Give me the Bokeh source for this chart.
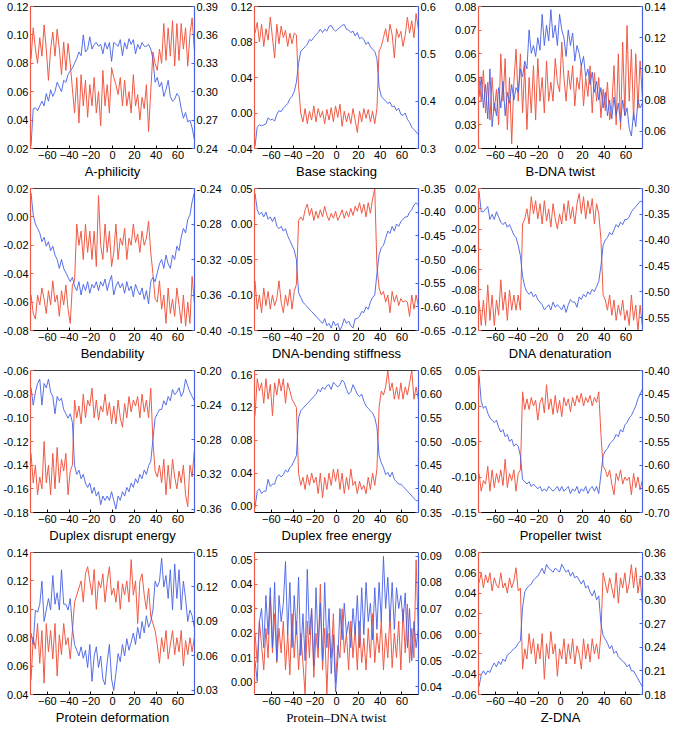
from bokeh.plotting import figure
from bokeh.models import Range1d, LinearAxis, FixedTicker, PrintfTickFormatter
from bokeh.layouts import gridplot
from bokeh.embed import file_html
from bokeh.resources import INLINE

RED = "#f05a45"
BLUE = "#4660e6"
FONT = "Liberation Sans"

positions = list(range(-75, 76, 2))
x_ticks = [-60, -40, -20, 0, 20, 40, 60]

titles = ["A-philicity", "Base stacking", "B-DNA twist",
          "Bendability", "DNA-bending stiffness", "DNA denaturation",
          "Duplex disrupt energy", "Duplex free energy", "Propeller twist",
          "Protein deformation", "Protein\u2013DNA twist", "Z-DNA"]

# ---- A-philicity
aph_red = [0.083, 0.105, 0.09, 0.08, 0.098, 0.085, 0.107, 0.09, 0.068, 0.09,
           0.102, 0.085, 0.104, 0.09, 0.072, 0.095, 0.075, 0.094, 0.08, 0.062,
           0.045, 0.07, 0.038, 0.072, 0.05, 0.068, 0.042, 0.065, 0.05, 0.07,
           0.045, 0.06, 0.036, 0.075, 0.05, 0.065, 0.045, 0.077, 0.07, 0.065,
           0.058, 0.07, 0.05, 0.068, 0.05, 0.06, 0.045, 0.072, 0.05, 0.058,
           0.04, 0.056, 0.048, 0.065, 0.032, 0.06, 0.088, 0.08, 0.075, 0.09,
           0.08, 0.108, 0.082, 0.105, 0.085, 0.11, 0.078, 0.108, 0.082, 0.108,
           0.09, 0.105, 0.078, 0.1, 0.112, 0.09]
aph_blue = [0.243, 0.282, 0.283, 0.28, 0.285, 0.29, 0.285, 0.298, 0.29, 0.302,
            0.295, 0.30, 0.31, 0.305, 0.30, 0.312, 0.31, 0.318, 0.322, 0.325,
            0.33, 0.335, 0.342, 0.338, 0.36, 0.342, 0.345, 0.358, 0.345, 0.35,
            0.352, 0.348, 0.35, 0.34, 0.352, 0.345, 0.352, 0.332, 0.352, 0.35,
            0.348, 0.355, 0.338, 0.352, 0.345, 0.356, 0.35, 0.355, 0.34, 0.35,
            0.345, 0.352, 0.348, 0.348, 0.35, 0.345, 0.335, 0.31, 0.315, 0.305,
            0.31, 0.295, 0.302, 0.312, 0.295, 0.29, 0.292, 0.298, 0.295, 0.282,
            0.272, 0.278, 0.268, 0.27, 0.262, 0.25]

# ---- Base stacking
bst_red = [0.09, 0.102, 0.08, 0.1, 0.075, 0.095, 0.082, 0.108, 0.085, 0.062,
           0.1, 0.078, 0.098, 0.085, 0.093, 0.075, 0.09, 0.078, 0.09, 0.088,
           0.03, 0.0, -0.01, 0.005, -0.012, 0.002, -0.008, 0.008, -0.01, 0.005,
           -0.005, 0.002, -0.012, 0.004, -0.008, 0.006, -0.01, 0.008, -0.005, 0.01,
           -0.015, 0.002, -0.01, 0.0, -0.012, 0.005, -0.008, -0.022, 0.002, -0.01,
           0.005, -0.006, 0.004, -0.01, 0.002, -0.012, 0.005, 0.07, 0.075, 0.085,
           0.095, 0.08, 0.1, 0.088, 0.062, 0.095, 0.085, 0.092, 0.075, 0.088,
           0.108, 0.09, 0.104, 0.085, 0.112, 0.095]
bst_blue = [0.305, 0.345, 0.35, 0.348, 0.35, 0.352, 0.365, 0.36, 0.362, 0.358,
            0.372, 0.38, 0.378, 0.385, 0.39, 0.395, 0.405, 0.41, 0.42, 0.44,
            0.48, 0.505, 0.51, 0.515, 0.52, 0.53, 0.528, 0.535, 0.54, 0.545,
            0.552, 0.545, 0.552, 0.548, 0.558, 0.56, 0.552, 0.548, 0.552, 0.556,
            0.56, 0.562, 0.552, 0.55, 0.545, 0.548, 0.538, 0.545, 0.532, 0.535,
            0.53, 0.52, 0.525, 0.515, 0.51, 0.505, 0.49, 0.43, 0.41, 0.405,
            0.4, 0.395, 0.398, 0.388, 0.39, 0.38, 0.385, 0.372, 0.37, 0.375,
            0.362, 0.355, 0.345, 0.34, 0.335, 0.33]

# ---- B-DNA twist
bdt_red = [0.05, 0.04, 0.053, 0.035, 0.048, 0.032, 0.05, 0.036, 0.045, 0.03,
           0.06, 0.04, 0.058, 0.028, 0.05, 0.022, 0.048, 0.062, 0.04, 0.06,
           0.035, 0.055, 0.028, 0.05, 0.035, 0.055, 0.032, 0.058, 0.04, 0.05,
           0.035, 0.057, 0.04, 0.048, 0.04, 0.058, 0.048, 0.044, 0.065, 0.05,
           0.04, 0.053, 0.045, 0.055, 0.038, 0.05, 0.045, 0.056, 0.038, 0.05,
           0.042, 0.055, 0.035, 0.052, 0.04, 0.05, 0.033, 0.045, 0.036, 0.048,
           0.032, 0.038, 0.055, 0.03, 0.06, 0.028, 0.065, 0.034, 0.072, 0.04,
           0.062, 0.032, 0.06, 0.037, 0.057, 0.042]
bdt_blue = [0.082, 0.095, 0.075, 0.09, 0.068, 0.1, 0.063, 0.078, 0.07, 0.088,
            0.075, 0.092, 0.07, 0.085, 0.078, 0.09, 0.08, 0.088, 0.085, 0.1,
            0.095, 0.105, 0.1, 0.125, 0.11, 0.115, 0.108, 0.12, 0.112, 0.135,
            0.115, 0.128, 0.118, 0.138, 0.12, 0.128, 0.115, 0.135, 0.125, 0.12,
            0.108, 0.125, 0.115, 0.123, 0.105, 0.115, 0.11, 0.102, 0.108, 0.095,
            0.1, 0.09, 0.098, 0.085, 0.092, 0.08, 0.088, 0.075, 0.085, 0.07,
            0.08, 0.068, 0.082, 0.07, 0.078, 0.066, 0.08, 0.07, 0.075, 0.062,
            0.057, 0.072, 0.063, 0.08, 0.075, 0.078]

# ---- Bendability
ben_red = [-0.055, -0.068, -0.072, -0.055, -0.062, -0.05, -0.058, -0.068, -0.052, -0.062,
           -0.045, -0.06, -0.055, -0.07, -0.052, -0.062, -0.048, -0.065, -0.075, -0.048,
           -0.045, -0.005, -0.02, -0.01, -0.03, -0.005, -0.025, -0.01, -0.03, -0.01,
           -0.035, 0.015, -0.02, -0.03, -0.005, -0.025, -0.01, -0.035, -0.025, -0.005,
           -0.03, -0.015, -0.02, -0.008, -0.03, -0.015, -0.02, -0.005, -0.018, -0.012,
           -0.025, -0.01, -0.02, -0.015, -0.003, -0.025, -0.04, -0.058, -0.06, -0.045,
           -0.065, -0.055, -0.075, -0.05, -0.068, -0.058, -0.07, -0.05, -0.062, -0.075,
           -0.055, -0.077, -0.06, -0.075, -0.042, -0.06]
ben_blue = [-0.245, -0.27, -0.28, -0.285, -0.29, -0.3, -0.295, -0.305, -0.3, -0.31,
            -0.305, -0.315, -0.32, -0.33, -0.32, -0.33, -0.335, -0.34, -0.345, -0.34,
            -0.35, -0.355, -0.345, -0.36, -0.348, -0.355, -0.345, -0.358, -0.348, -0.352,
            -0.345, -0.355, -0.345, -0.35, -0.342, -0.355, -0.345, -0.338, -0.36, -0.35,
            -0.345, -0.352, -0.347, -0.358, -0.345, -0.355, -0.35, -0.362, -0.348, -0.355,
            -0.36, -0.352, -0.365, -0.355, -0.37, -0.345, -0.34, -0.345, -0.335, -0.325,
            -0.32, -0.33, -0.315, -0.325, -0.33, -0.315, -0.32, -0.305, -0.31, -0.295,
            -0.285, -0.29, -0.275, -0.27, -0.255, -0.245]

# ---- DNA-bending stiffness
dbs_red = [-0.08, -0.12, -0.1, -0.125, -0.09, -0.115, -0.095, -0.12, -0.1, -0.115,
           -0.105, -0.08, -0.11, -0.125, -0.1, -0.115, -0.092, -0.12, -0.095, -0.085,
           0.005, 0.01, 0.005, 0.02, 0.028, 0.012, 0.022, 0.005, 0.018, 0.008,
           0.02, 0.01, 0.025, 0.012, 0.005, 0.015, 0.008, 0.018, 0.005, 0.012,
           0.02, 0.008, 0.018, 0.01, 0.022, 0.012, 0.025, 0.018, 0.03, 0.015,
           0.028, 0.01, 0.03, 0.015, 0.035, 0.05, -0.06, -0.09, -0.1, -0.095,
           -0.11, -0.1, -0.125, -0.095, -0.11, -0.1, -0.115, -0.105, -0.11, -0.108,
           -0.11, -0.13, -0.1, -0.12, -0.1, -0.115]
dbs_blue = [-0.36, -0.395, -0.405, -0.4, -0.41, -0.4, -0.415, -0.41, -0.42, -0.41,
            -0.43, -0.435, -0.43, -0.44, -0.435, -0.45, -0.46, -0.47, -0.48, -0.5,
            -0.57, -0.58, -0.59, -0.595, -0.6, -0.605, -0.61, -0.615, -0.62, -0.625,
            -0.63, -0.635, -0.625, -0.64, -0.635, -0.645, -0.63, -0.64, -0.635, -0.65,
            -0.64, -0.625, -0.635, -0.63, -0.64, -0.645, -0.625, -0.625, -0.62, -0.61,
            -0.612, -0.6, -0.605, -0.59, -0.58, -0.575, -0.53, -0.49, -0.475, -0.47,
            -0.455, -0.44, -0.445, -0.43, -0.44, -0.425, -0.43, -0.42, -0.415, -0.41,
            -0.41, -0.4, -0.395, -0.385, -0.38, -0.385]

# ---- DNA denaturation
den_red = [-0.09, -0.115, -0.09, -0.115, -0.075, -0.11, -0.085, -0.115, -0.09, -0.105,
           -0.07, -0.1, -0.082, -0.11, -0.08, -0.1, -0.085, -0.1, -0.085, -0.1,
           -0.015, -0.01, 0.0, -0.015, 0.012, -0.005, 0.008, -0.01, 0.005, -0.015,
           0.008, -0.012, 0.0, -0.018, 0.005, -0.01, -0.02, -0.005, -0.015, 0.005,
           -0.012, 0.008, -0.01, 0.002, -0.015, 0.005, 0.015, -0.005, 0.012, -0.01,
           0.008, -0.005, 0.01, -0.015, 0.005, -0.005, -0.03, -0.085, -0.09, -0.1,
           -0.085, -0.105, -0.09, -0.11, -0.095, -0.105, -0.09, -0.11, -0.1, -0.115,
           -0.085, -0.11, -0.095, -0.12, -0.095, -0.115]
den_blue = [-0.305, -0.345, -0.345, -0.34, -0.335, -0.36, -0.35, -0.36, -0.345, -0.355,
            -0.365, -0.37, -0.365, -0.375, -0.37, -0.38, -0.39, -0.395, -0.41, -0.43,
            -0.47, -0.49, -0.5, -0.505, -0.5, -0.51, -0.505, -0.515, -0.52, -0.525,
            -0.535, -0.53, -0.525, -0.535, -0.52, -0.53, -0.525, -0.53, -0.535, -0.525,
            -0.54, -0.525, -0.515, -0.52, -0.52, -0.53, -0.51, -0.515, -0.505, -0.51,
            -0.5, -0.505, -0.495, -0.5, -0.49, -0.48, -0.45, -0.41, -0.4, -0.395,
            -0.385, -0.39, -0.38, -0.37, -0.375, -0.365, -0.37, -0.36, -0.36, -0.355,
            -0.345, -0.34, -0.335, -0.33, -0.325, -0.325]

# ---- Duplex disrupt energy
dde_red = [-0.13, -0.155, -0.14, -0.165, -0.15, -0.16, -0.12, -0.155, -0.14, -0.165,
           -0.13, -0.16, -0.125, -0.155, -0.135, -0.145, -0.13, -0.165, -0.145, -0.14,
           -0.085, -0.1, -0.09, -0.105, -0.08, -0.1, -0.085, -0.09, -0.075, -0.1,
           -0.085, -0.102, -0.09, -0.095, -0.08, -0.098, -0.087, -0.105, -0.09, -0.105,
           -0.085, -0.1, -0.108, -0.088, -0.1, -0.082, -0.095, -0.085, -0.09, -0.082,
           -0.1, -0.08, -0.095, -0.085, -0.1, -0.075, -0.12, -0.145, -0.15, -0.14,
           -0.155, -0.135, -0.165, -0.14, -0.16, -0.135, -0.15, -0.16, -0.145, -0.155,
           -0.14, -0.165, -0.175, -0.14, -0.15, -0.128]
dde_blue = [-0.22, -0.24, -0.225, -0.215, -0.21, -0.24, -0.215, -0.22, -0.21, -0.225,
            -0.23, -0.25, -0.23, -0.235, -0.232, -0.245, -0.25, -0.255, -0.25, -0.26,
            -0.31, -0.32, -0.315, -0.325, -0.32, -0.33, -0.335, -0.33, -0.342, -0.335,
            -0.345, -0.34, -0.355, -0.345, -0.35, -0.345, -0.35, -0.34, -0.35, -0.36,
            -0.345, -0.35, -0.34, -0.345, -0.335, -0.34, -0.33, -0.335, -0.325, -0.33,
            -0.32, -0.325, -0.315, -0.32, -0.31, -0.305, -0.28, -0.255, -0.25, -0.245,
            -0.245, -0.235, -0.24, -0.23, -0.235, -0.222, -0.228, -0.225, -0.22, -0.23,
            -0.225, -0.21, -0.218, -0.225, -0.23, -0.235]

# ---- Duplex free energy
dfe_red = [0.11, 0.155, 0.14, 0.15, 0.125, 0.155, 0.13, 0.148, 0.11, 0.15,
           0.135, 0.155, 0.14, 0.155, 0.125, 0.15, 0.14, 0.13, 0.125, 0.12,
           0.04, 0.025, 0.035, 0.02, 0.038, 0.025, 0.04, 0.028, 0.035, 0.015,
           0.04, 0.01, 0.035, 0.02, 0.04, 0.025, 0.045, 0.03, 0.045, 0.02,
           0.04, 0.015, 0.035, 0.02, 0.045, 0.025, 0.03, 0.015, 0.03, 0.02,
           0.025, 0.015, 0.035, 0.02, 0.04, 0.025, 0.045, 0.12, 0.14, 0.135,
           0.145, 0.165, 0.14, 0.15, 0.13, 0.145, 0.13, 0.15, 0.13, 0.145,
           0.135, 0.15, 0.165, 0.13, 0.145, 0.13]
dfe_blue = [0.36, 0.395, 0.4, 0.39, 0.395, 0.395, 0.42, 0.405, 0.41, 0.41,
            0.425, 0.43, 0.425, 0.43, 0.44, 0.435, 0.445, 0.45, 0.46, 0.47,
            0.55, 0.565, 0.57, 0.575, 0.58, 0.585, 0.59, 0.595, 0.6, 0.61,
            0.605, 0.615, 0.61, 0.618, 0.62, 0.61, 0.625, 0.62, 0.615, 0.62,
            0.63, 0.625, 0.61, 0.6, 0.605, 0.62, 0.61, 0.6, 0.595, 0.6,
            0.585, 0.575, 0.57, 0.565, 0.56, 0.55, 0.53, 0.47, 0.455, 0.445,
            0.43, 0.435, 0.425, 0.435, 0.42, 0.415, 0.41, 0.41, 0.405, 0.4,
            0.395, 0.39, 0.385, 0.38, 0.375, 0.375]

# ---- Propeller twist
prt_red = [-0.095, -0.12, -0.105, -0.11, -0.085, -0.12, -0.09, -0.115, -0.095, -0.108,
           -0.09, -0.112, -0.075, -0.115, -0.095, -0.105, -0.09, -0.12, -0.095, -0.09,
           0.02, -0.005, 0.01, -0.005, 0.012, 0.0, 0.008, -0.02, 0.005, 0.012,
           -0.01, 0.03, -0.005, 0.01, -0.012, 0.015, -0.01, 0.008, -0.015, 0.012,
           0.0, 0.01, -0.008, 0.012, 0.0, 0.015, 0.005, 0.018, 0.0, 0.012,
           0.005, 0.015, 0.0, 0.012, 0.005, 0.02, -0.04, -0.085, -0.09, -0.1,
           -0.09, -0.11, -0.125, -0.095, -0.105, -0.09, -0.11, -0.1, -0.105, -0.1,
           -0.125, -0.095, -0.115, -0.1, -0.118, -0.105]
prt_blue = [-0.41, -0.465, -0.48, -0.475, -0.49, -0.5, -0.505, -0.51, -0.505, -0.52,
            -0.53, -0.525, -0.54, -0.535, -0.55, -0.545, -0.56, -0.555, -0.56, -0.58,
            -0.63, -0.635, -0.64, -0.635, -0.645, -0.64, -0.645, -0.65, -0.645, -0.655,
            -0.65, -0.655, -0.645, -0.65, -0.655, -0.65, -0.645, -0.655, -0.645, -0.655,
            -0.65, -0.645, -0.66, -0.65, -0.655, -0.645, -0.66, -0.65, -0.655, -0.645,
            -0.66, -0.65, -0.645, -0.655, -0.645, -0.66, -0.62, -0.58, -0.57, -0.565,
            -0.555, -0.55, -0.545, -0.535, -0.54, -0.525, -0.53, -0.515, -0.51, -0.5,
            -0.495, -0.485, -0.475, -0.46, -0.45, -0.44]

# ---- Protein deformation
pde_red = [0.05, 0.08, 0.072, 0.09, 0.062, 0.085, 0.048, 0.09, 0.07, 0.085,
           0.065, 0.09, 0.053, 0.082, 0.068, 0.09, 0.075, 0.08, 0.065, 0.085,
           0.105, 0.11, 0.115, 0.12, 0.105, 0.125, 0.13, 0.12, 0.11, 0.128,
           0.1, 0.12, 0.115, 0.125, 0.105, 0.12, 0.13, 0.11, 0.115, 0.105,
           0.12, 0.1, 0.118, 0.11, 0.12, 0.105, 0.135, 0.11, 0.12, 0.09,
           0.12, 0.125, 0.11, 0.1, 0.115, 0.095, 0.09, 0.085, 0.075, 0.062,
           0.08, 0.07, 0.085, 0.065, 0.075, 0.085, 0.068, 0.08, 0.07, 0.085,
           0.06, 0.078, 0.068, 0.08, 0.07, 0.08]
pde_blue = [0.08, 0.07, 0.1, 0.098, 0.105, 0.125, 0.09, 0.1, 0.11, 0.1,
            0.13, 0.105, 0.115, 0.1, 0.135, 0.105, 0.105, 0.1, 0.11, 0.085,
            0.07, 0.065, 0.06, 0.068, 0.058, 0.065, 0.05, 0.07, 0.038, 0.06,
            0.068, 0.05, 0.06, 0.04, 0.035, 0.055, 0.07, 0.04, 0.03, 0.045,
            0.062, 0.055, 0.07, 0.06, 0.075, 0.065, 0.072, 0.08, 0.07, 0.085,
            0.075, 0.09, 0.08, 0.095, 0.085, 0.09, 0.1, 0.125, 0.12, 0.125,
            0.145, 0.12, 0.13, 0.11, 0.135, 0.1, 0.14, 0.11, 0.135, 0.1,
            0.125, 0.11, 0.09, 0.1, 0.095, 0.085]

# ---- Protein-DNA twist
pdt_red = [0.02, 0.008, 0.025, 0.015, 0.005, 0.022, 0.01, 0.035, 0.012, 0.028,
           0.008, 0.022, 0.012, 0.025, 0.005, 0.02, 0.003, 0.028, 0.01, 0.025,
           0.005, 0.02, 0.008, -0.005, 0.025, 0.01, 0.03, 0.002, 0.02, 0.01,
           0.04, 0.005, 0.022, -0.005, 0.02, 0.01, 0.028, 0.0, 0.015, 0.01,
           0.03, 0.012, 0.02, 0.005, 0.025, 0.01, 0.022, 0.005, 0.025, 0.008,
           0.018, 0.005, 0.022, 0.01, 0.028, 0.008, 0.02, 0.012, 0.025, 0.005,
           0.02, 0.01, 0.028, 0.006, 0.02, 0.01, 0.025, 0.005, 0.03, 0.012,
           0.032, 0.008, 0.022, 0.01, 0.05, 0.02]
pdt_blue = [0.05, 0.042, 0.065, 0.07, 0.055, 0.075, 0.06, 0.078, 0.055, 0.08,
            0.05, 0.075, 0.065, 0.072, 0.088, 0.06, 0.08, 0.055, 0.075, 0.06,
            0.082, 0.052, 0.068, 0.05, 0.085, 0.06, 0.07, 0.048, 0.078, 0.055,
            0.072, 0.05, 0.08, 0.055, 0.07, 0.045, 0.06, 0.038, 0.05, 0.07,
            0.058, 0.072, 0.06, 0.065, 0.055, 0.07, 0.06, 0.075, 0.055, 0.078,
            0.06, 0.08, 0.065, 0.072, 0.058, 0.078, 0.062, 0.08, 0.065, 0.09,
            0.07, 0.082, 0.065, 0.08, 0.062, 0.078, 0.07, 0.075, 0.065, 0.076,
            0.055, 0.07, 0.05, 0.065, 0.055, 0.062]

# ---- Z-DNA
zdn_red = [0.05, 0.06, 0.045, 0.058, 0.05, 0.06, 0.042, 0.055, 0.048, 0.045,
           0.06, 0.045, 0.05, 0.04, 0.055, 0.045, 0.052, 0.065, 0.042, 0.045,
           -0.035, -0.015, -0.025, 0.0, -0.02, -0.005, -0.03, -0.01, -0.025, 0.0,
           -0.045, -0.01, -0.025, 0.002, -0.02, -0.01, -0.042, -0.015, -0.025, -0.005,
           -0.03, -0.01, -0.025, -0.005, -0.03, -0.012, -0.02, -0.035, -0.005, -0.025,
           -0.01, -0.028, -0.005, -0.02, -0.01, -0.025, 0.0, 0.06, 0.05, 0.04,
           0.055, 0.045, 0.035, 0.06, 0.03, 0.055, 0.045, 0.06, 0.04, 0.05,
           0.068, 0.045, 0.065, 0.04, 0.055, 0.03]
zdn_blue = [0.19, 0.205, 0.21, 0.205, 0.21, 0.208, 0.215, 0.22, 0.215, 0.222,
            0.218, 0.225, 0.222, 0.23, 0.232, 0.235, 0.238, 0.24, 0.245, 0.248,
            0.29, 0.31, 0.315, 0.318, 0.32, 0.325, 0.328, 0.33, 0.335, 0.34,
            0.333, 0.345, 0.34, 0.338, 0.335, 0.34, 0.338, 0.335, 0.345, 0.34,
            0.335, 0.338, 0.33, 0.335, 0.328, 0.33, 0.325, 0.32, 0.325, 0.315,
            0.318, 0.31, 0.305, 0.312, 0.3, 0.305, 0.27, 0.255, 0.25, 0.245,
            0.238, 0.242, 0.232, 0.235, 0.228, 0.225, 0.222, 0.22, 0.215, 0.218,
            0.21, 0.21, 0.205, 0.2, 0.195, 0.19]

# axis ranges and ticks (left = red series, right = blue series)
left_ranges = [(0.02, 0.12), (-0.04, 0.12), (0.02, 0.08),
               (-0.08, 0.02), (-0.15, 0.05), (-0.12, 0.02),
               (-0.18, -0.06), (-0.008, 0.165), (-0.15, 0.05),
               (0.04, 0.14), (-0.005, 0.053), (-0.06, 0.08)]
left_ticks = [[0.02, 0.04, 0.06, 0.08, 0.10, 0.12],
              [-0.04, 0.0, 0.04, 0.08, 0.12],
              [0.02, 0.03, 0.04, 0.05, 0.06, 0.07, 0.08],
              [-0.08, -0.06, -0.04, -0.02, 0.0, 0.02],
              [-0.15, -0.10, -0.05, 0.0, 0.05],
              [-0.12, -0.10, -0.08, -0.06, -0.04, -0.02, 0.0, 0.02],
              [-0.18, -0.16, -0.14, -0.12, -0.10, -0.08, -0.06],
              [0.0, 0.04, 0.08, 0.12, 0.16],
              [-0.15, -0.10, -0.05, 0.0, 0.05],
              [0.04, 0.06, 0.08, 0.10, 0.12, 0.14],
              [0.0, 0.01, 0.02, 0.03, 0.04, 0.05],
              [-0.06, -0.04, -0.02, 0.0, 0.02, 0.04, 0.06, 0.08]]
right_ranges = [(0.24, 0.39), (0.3, 0.6), (0.049, 0.14),
                (-0.40, -0.24), (-0.65, -0.35), (-0.575, -0.30),
                (-0.364, -0.20), (0.35, 0.65), (-0.70, -0.40),
                (0.0265, 0.15), (0.037, 0.0915), (0.18, 0.36)]
right_ticks = [[0.24, 0.27, 0.30, 0.33, 0.36, 0.39],
               [0.3, 0.4, 0.5, 0.6],
               [0.06, 0.08, 0.10, 0.12, 0.14],
               [-0.40, -0.36, -0.32, -0.28, -0.24],
               [-0.65, -0.60, -0.55, -0.50, -0.45, -0.40, -0.35],
               [-0.55, -0.50, -0.45, -0.40, -0.35, -0.30],
               [-0.36, -0.32, -0.28, -0.24, -0.20],
               [0.35, 0.40, 0.45, 0.50, 0.55, 0.60, 0.65],
               [-0.70, -0.65, -0.60, -0.55, -0.50, -0.45, -0.40],
               [0.03, 0.06, 0.09, 0.12, 0.15],
               [0.04, 0.05, 0.06, 0.07, 0.08, 0.09],
               [0.18, 0.21, 0.24, 0.27, 0.30, 0.33, 0.36]]
right_formats = ["%.2f", "%.1f", "%.2f", "%.2f", "%.2f", "%.2f",
                 "%.2f", "%.2f", "%.2f", "%.2f", "%.2f", "%.2f"]

reds = [aph_red, bst_red, bdt_red, ben_red, dbs_red, den_red,
        dde_red, dfe_red, prt_red, pde_red, pdt_red, zdn_red]
blues = [aph_blue, bst_blue, bdt_blue, ben_blue, dbs_blue, den_blue,
         dde_blue, dfe_blue, prt_blue, pde_blue, pdt_blue, zdn_blue]

for s in reds + blues:
    assert len(s) == len(positions), len(s)


def style_axis(ax, color):
    ax.axis_line_color = color
    ax.axis_line_width = 1.2
    ax.major_tick_line_color = color
    ax.minor_tick_line_color = None
    ax.major_tick_in = 3
    ax.major_tick_out = 0
    ax.major_label_text_font = FONT
    ax.major_label_text_font_size = "11px"
    ax.major_label_text_color = "black"
    ax.major_label_standoff = 2


def make_panel(i):
    p = figure(width=224, height=182, output_backend="svg", toolbar_location=None,
               tools="", x_range=Range1d(-75.5, 75.2),
               y_range=Range1d(*left_ranges[i]),
               min_border_left=29, min_border_right=29,
               min_border_top=6, min_border_bottom=34)
    p.outline_line_color = None
    p.background_fill_color = "white"
    p.xgrid.visible = False
    p.ygrid.visible = False
    p.extra_y_ranges = {"r": Range1d(*right_ranges[i])}

    p.line(positions, reds[i], line_color=RED, line_width=1)
    p.line(positions, blues[i], line_color=BLUE, line_width=1,
           line_alpha=0.9, y_range_name="r")

    xa = p.xaxis[0]
    style_axis(xa, "black")
    xa.ticker = FixedTicker(ticks=x_ticks)
    xa.axis_label = titles[i]
    xa.axis_label_text_font = "Liberation Serif" if i == 10 else FONT
    xa.axis_label_text_font_style = "normal"
    xa.axis_label_text_font_size = "13px"
    xa.axis_label_text_color = "black"
    xa.axis_label_standoff = 2

    ya = p.yaxis[0]
    style_axis(ya, RED)
    ya.ticker = FixedTicker(ticks=left_ticks[i])
    ya.formatter = PrintfTickFormatter(format="%.2f")

    ra = LinearAxis(y_range_name="r")
    style_axis(ra, BLUE)
    ra.ticker = FixedTicker(ticks=right_ticks[i])
    ra.formatter = PrintfTickFormatter(format=right_formats[i])
    p.add_layout(ra, "right")

    # plain dark top border (axis line only, no ticks, no visible labels)
    ta = LinearAxis(ticker=FixedTicker(ticks=x_ticks))
    ta.axis_line_color = "#3c3c3c"
    ta.axis_line_width = 1.2
    ta.major_tick_line_color = None
    ta.minor_tick_line_color = None
    ta.major_tick_in = 0
    ta.major_tick_out = 0
    ta.major_label_standoff = 0
    ta.major_label_text_font_size = "1px"
    ta.major_label_text_alpha = 0
    p.add_layout(ta, "above")
    return p


panels = [make_panel(i) for i in range(12)]
rows = [panels[r * 3:(r + 1) * 3] for r in range(4)]
grid = gridplot(rows, toolbar_location=None)

open("out.html", "w").write(file_html(grid, INLINE))
